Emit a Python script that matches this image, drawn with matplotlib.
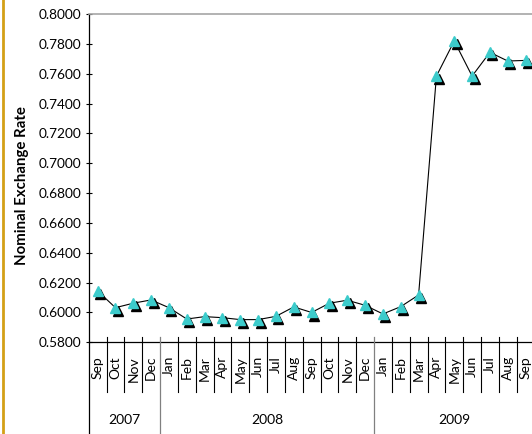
import matplotlib
matplotlib.use("Agg")
import matplotlib.pyplot as plt
import matplotlib.transforms as mtransforms
from matplotlib.lines import Line2D

months = ["Sep", "Oct", "Nov", "Dec",
          "Jan", "Feb", "Mar", "Apr", "May", "Jun", "Jul", "Aug", "Sep", "Oct", "Nov", "Dec",
          "Jan", "Feb", "Mar", "Apr", "May", "Jun", "Jul", "Aug", "Sep"]
years = ["2007", "2008", "2009"]
year_counts = [4, 12, 9]
rates = [0.6144, 0.6032, 0.6062, 0.6084,
         0.6032, 0.5956, 0.5972, 0.5965, 0.5952, 0.5952, 0.5974, 0.6037, 0.6000, 0.6062, 0.6082, 0.6048,
         0.5990, 0.6039, 0.6117, 0.7584, 0.7819, 0.7584, 0.7743, 0.7685, 0.7689]
yticks = [0.58, 0.60, 0.62, 0.64, 0.66, 0.68, 0.70, 0.72, 0.74, 0.76, 0.78, 0.80]

plt.rcParams['font.family'] = ['Lato', 'DejaVu Sans']

W, H = 532, 434
fig = plt.figure(figsize=(W / 100, H / 100), dpi=100)
left, right, top, bottom = 88.7, 534.5, 14, 342.3
ax = fig.add_axes([left / W, 1 - bottom / H, (right - left) / W, (bottom - top) / H])

x = list(range(len(rates)))
ax.plot(x, rates, color="black", lw=0.8, zorder=2)
shadow_tr = mtransforms.offset_copy(ax.transData, fig=fig, x=1.8, y=-2.2, units='points')
ax.plot(x, rates, ls="none", marker="^", ms=7, color="black", transform=shadow_tr, zorder=3, clip_on=False)
ax.plot(x, rates, ls="none", marker="^", ms=7, markerfacecolor="#3CCBCB",
        markeredgecolor="#3CCBCB", zorder=4, clip_on=False)

ax.set_xlim(-0.5, len(rates) - 0.5)
ax.set_ylim(0.58, 0.80)
ax.set_yticks(yticks)
ax.set_yticklabels([f"{v:.4f}" for v in yticks], fontsize=9.8)
ax.tick_params(axis='y', direction='inout', length=5, width=0.8, pad=3)
ax.set_xticks([])
ax.spines["right"].set_visible(False)
ax.spines["top"].set_color("#A6A6A6")
ax.spines["top"].set_linewidth(1.2)
ax.spines["left"].set_linewidth(0.9)
ax.spines["bottom"].set_linewidth(0.9)

ax.set_ylabel("Nominal Exchange Rate", fontsize=10.8, fontweight="bold")
ax.yaxis.set_label_coords(-60 / (right - left), (bottom - 186) / (bottom - top))

def fx(px):
    return px / W

def fy(py):
    return 1 - py / H

cw = (right - left) / len(rates)
year_bounds = [0]
for c in year_counts:
    year_bounds.append(year_bounds[-1] + c)

for i in range(1, len(rates) + 1):
    xp = left + i * cw
    if i in year_bounds[1:-1]:
        continue
    fig.add_artist(Line2D([fx(xp), fx(xp)], [fy(337), fy(392)], color="black", lw=0.8))
for b in year_bounds[:-1]:
    xp = left + b * cw
    col = "black" if b == 0 else "#808080"
    fig.add_artist(Line2D([fx(xp), fx(xp)], [fy(337 if b else 342), fy(434)], color=col, lw=0.9))

for i, m in enumerate(months):
    xp = left + (i + 0.5) * cw
    fig.text(fx(xp), fy(356), m, rotation=90, ha="center", va="top", fontsize=10)

for yname, s, e in zip(years, year_bounds[:-1], year_bounds[1:]):
    xp = left + (s + e) / 2 * cw
    fig.text(fx(xp), fy(420), yname, ha="center", va="center", fontsize=10)

fig.add_artist(Line2D([fx(3), fx(3)], [0, 1], color="#D4A017", lw=2))

fig.savefig("out.png", dpi=100)
